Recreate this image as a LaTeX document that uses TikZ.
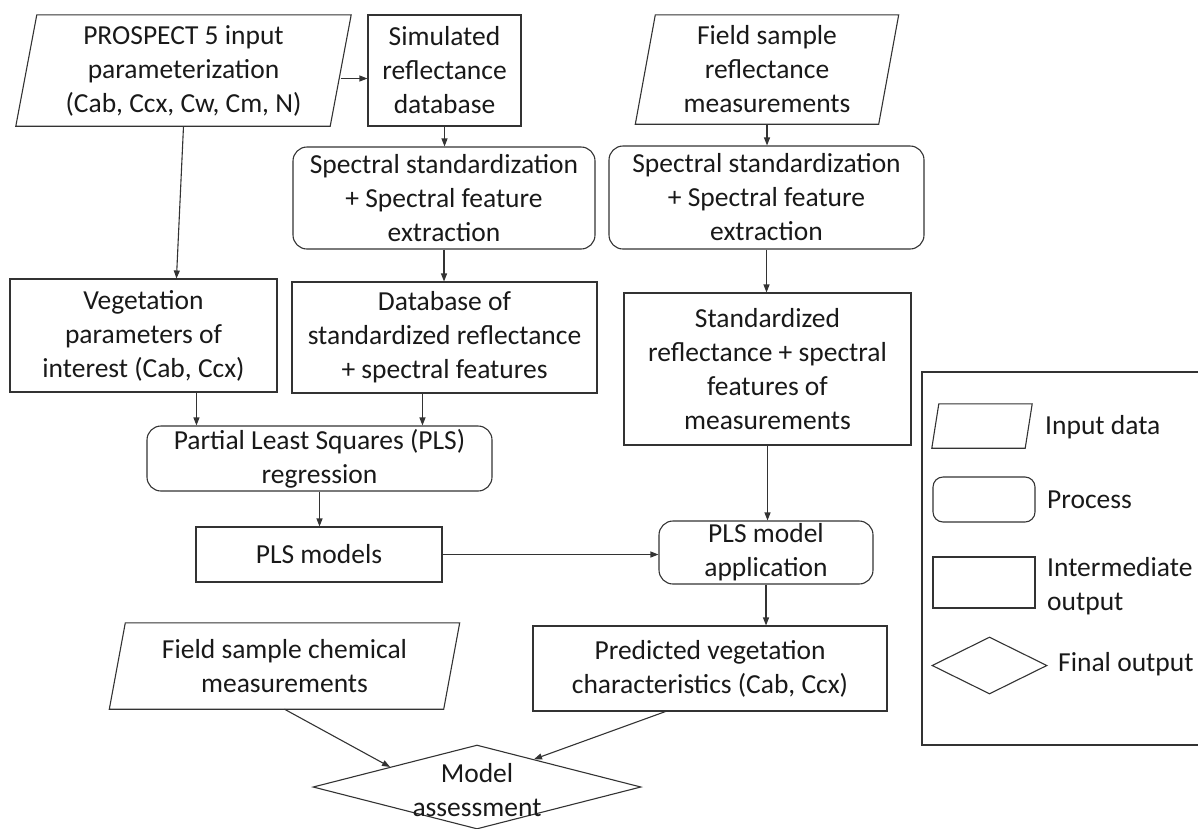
\documentclass[tikz,border=0pt]{standalone}
\usepackage{fontspec}
\setmainfont{Carlito}
\usetikzlibrary{shapes.geometric,arrows.meta}
\newcommand\paraframe[2]{\draw[line] ([xshift=#2]#1.north west) -- ([xshift=#2]#1.north east) -- ([xshift=-#2]#1.south east) -- ([xshift=-#2]#1.south west) -- cycle;}
\begin{document}
\begin{tikzpicture}[x=1pt,y=-1pt,
  line/.style={draw=black!80, line width=1.1pt},
  arr/.style={draw=black!80, line width=1.1pt, -{Triangle[length=8pt,width=6pt]}},
  txt/.style={font=\fontsize{27.5}{34}\selectfont, align=center, text=black!90, inner sep=0pt},
  box/.style={txt, line, rectangle},
  proc/.style={txt, line, rectangle, rounded corners=14pt},
  datatext/.style={txt, rectangle},
  lbl/.style={font=\fontsize{27.5}{34}\selectfont, align=left, anchor=west, inner sep=0pt, text=black!90},
]
\useasboundingbox (0,0) rectangle (1198,828);

% main flow
\node[datatext, minimum width=314pt, minimum height=111pt] (prospect) at (183.5,70.5) {PROSPECT 5 input\\parameterization\\(Cab, Ccx, Cw, Cm, N)};
\paraframe{prospect}{10.5pt}
\node[box, minimum width=153pt, minimum height=111pt] (sim) at (444.5,70.5) {Simulated\\reflectance\\database};
\node[datatext, minimum width=243pt, minimum height=109pt] (field) at (767,69.5) {Field sample\\reflectance\\measurements};
\paraframe{field}{10pt}
\node[proc, minimum width=302pt, minimum height=102pt] (specL) at (444,198) {Spectral standardization\\+ Spectral feature\\extraction};
\node[proc, minimum width=315pt, minimum height=103pt] (specR) at (766.5,197.5) {Spectral standardization\\+ Spectral feature\\extraction};
\node[box, minimum width=267pt, minimum height=113pt] (veg) at (143.5,335.5) {Vegetation\\parameters of\\interest (Cab, Ccx)};
\node[box, minimum width=305pt, minimum height=111pt] (db) at (444.5,337.5) {Database of\\standardized reflectance\\+ spectral features};
\node[box, minimum width=287pt, minimum height=152pt] (std) at (767.5,369) {Standardized\\reflectance + spectral\\features of\\measurements};
\node[proc, minimum width=345pt, minimum height=65pt] (plsreg) at (319.5,458.5) {Partial Least Squares (PLS)\\regression};
\node[box, minimum width=246pt, minimum height=55pt] (plsmod) at (319,554.5) {PLS models};
\node[proc, minimum width=214pt, minimum height=63pt] (plsapp) at (766,552.5) {PLS model\\application};
\node[datatext, minimum width=334pt, minimum height=86pt] (fchem) at (284.5,666) {Field sample chemical\\measurements};
\paraframe{fchem}{8pt}
\node[box, minimum width=354pt, minimum height=85pt] (pred) at (710,668.5) {Predicted vegetation\\characteristics (Cab, Ccx)};
\node[line, diamond, minimum width=328pt, minimum height=84pt, inner sep=0pt] (assess) at (477,787) {};
\node[txt] (assesstxt) at (477,790) {Model\\assessment};

% connectors
\draw[arr] ([yshift=-8pt]prospect.east) -- ([yshift=-8pt]sim.west);
\draw[arr] (prospect.south) -- ([xshift=167pt]veg.north west);
\draw[arr] (sim.south) -- (sim.south |- specL.north);
\draw[arr] (specL.south) -- (specL.south |- db.north);
\draw[arr] (field.south) -- (field.south |- specR.north);
\draw[arr] (specR.south) -- (specR.south |- std.north);
\draw[arr] ([xshift=187pt]veg.south west) -- ([xshift=50pt]plsreg.north west);
\draw[arr] ([xshift=131pt]db.south west) -- ([xshift=276pt]plsreg.north west);
\draw[arr] (plsreg.south) -- (plsreg.south |- plsmod.north);
\draw[arr] (plsmod.east) -- (plsmod.east -| plsapp.west);
\draw[arr] (std.south) -- (std.south |- plsapp.north);
\draw[arr] (plsapp.south) -- (plsapp.south |- pred.north);
\draw[arr] (fchem.south) -- (assess.167);
\draw[arr] ([xshift=133pt]pred.south west) -- (assess.26);

% legend
\node[line, rectangle, minimum width=283pt, minimum height=373pt, inner sep=0pt] (legend) at (1063.5,558.5) {};
\node[datatext, minimum width=93pt, minimum height=44pt] (lin) at (982,426) {};
\paraframe{lin}{3.5pt}
\node[lbl] (linl) at (1045,427) {Input data};
\node[line, rectangle, rounded corners=10pt, minimum width=102pt, minimum height=45pt, inner sep=0pt] (lproc) at (984,499.5) {};
\node[lbl] (lprocl) at (1047,500) {Process};
\node[line, rectangle, minimum width=102pt, minimum height=51pt, inner sep=0pt] (linter) at (984,582.5) {};
\node[lbl] (linterl) at (1047,586) {Intermediate\\output};
\node[line, diamond, minimum width=115pt, minimum height=57pt, inner sep=0pt] (lfinal) at (989.5,665.5) {};
\node[lbl] (lfinall) at (1058,664) {Final output};
\end{tikzpicture}
\end{document}
